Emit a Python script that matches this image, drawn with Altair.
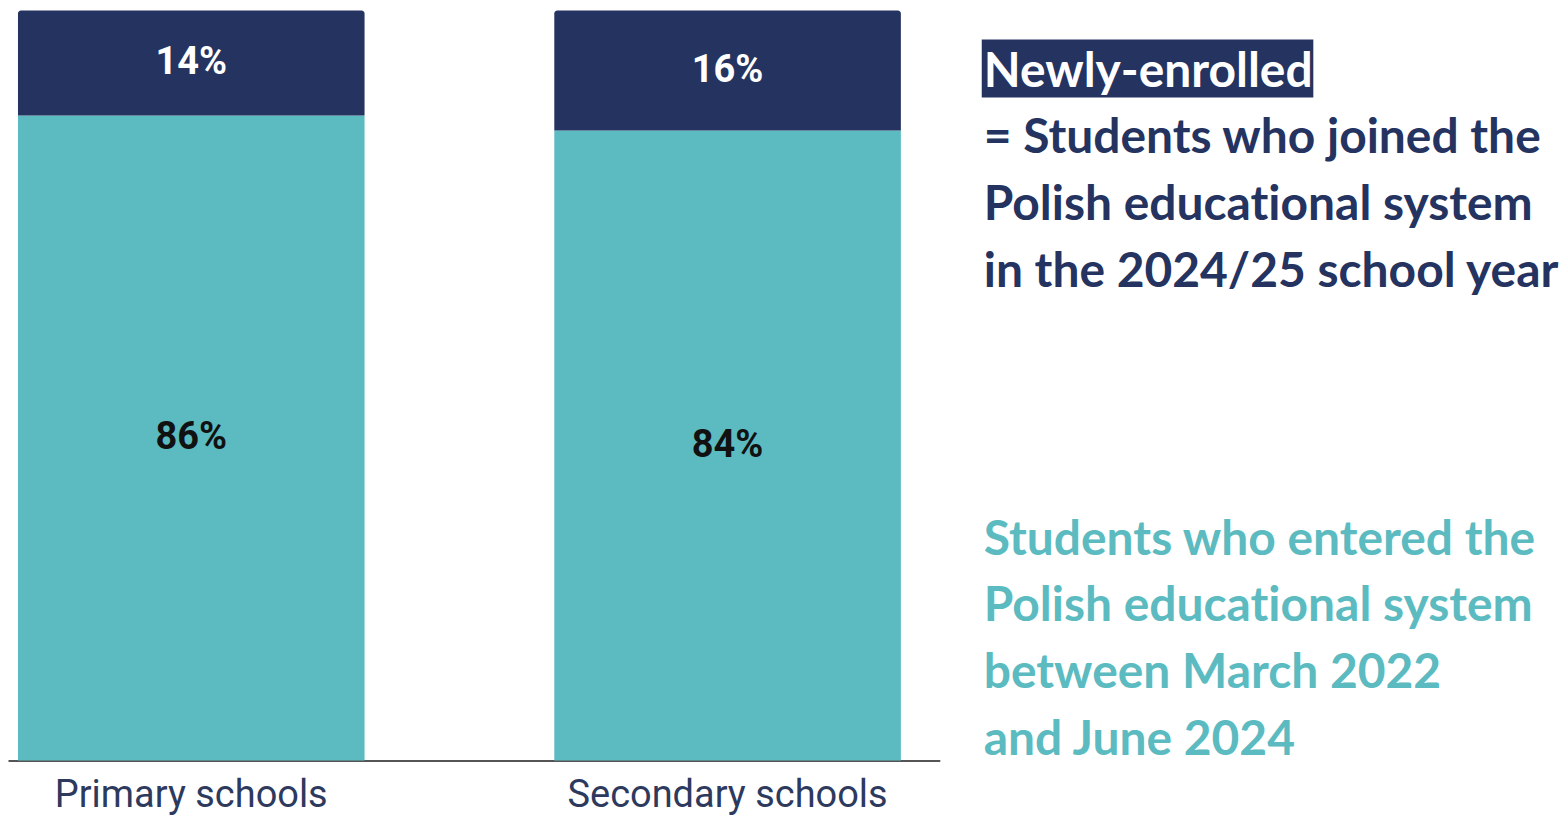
import altair as alt
import pandas as pd

# ---- data ----
schools = ["Primary schools", "Secondary schools"]
earlier_pct = [86, 84]    # entered between March 2022 and June 2024
newly_pct = [14, 16]      # newly-enrolled in 2024/25

ZWNJ = "\u200c"  # keeps "ti" from turning into a ligature
title_word = "Newly-enrolled"
navy_lines = ["= Students who joined the",
              f"Polish educat{ZWNJ}ional system",
              "in the 2024/25 school year"]
teal_lines = ["Students who entered the",
              f"Polish educat{ZWNJ}ional system",
              "between March 2022",
              "and June 2024"]

NAVY = "#243360"
TEAL = "#5bbbc0"

df = pd.DataFrame({
    "school": schools,
    "earlier": earlier_pct,
    "newly": newly_pct,
})
df["total"] = df["earlier"] + df["newly"]
df["earlier_mid"] = df["earlier"] / 2
df["newly_mid"] = df["earlier"] + df["newly"] / 2
df["earlier_lbl"] = [f"{v}%" for v in df["earlier"]]
df["newly_lbl"] = [f"{v}%" for v in df["newly"]]

W, H = 933, 751

x = alt.X("school:N", sort=schools, title=None,
          scale=alt.Scale(paddingInner=0.3538, paddingOuter=0.0456, align=0.204),
          axis=alt.Axis(labelAngle=0, ticks=False, labelPadding=16, labelLimit=0,
                        labelFont="Roboto", labelFontSize=38, labelColor="#2d3a5e",
                        domainColor="#555555", domainWidth=2, grid=False))
yscale = alt.Scale(domain=[0, 100], nice=False)

base = alt.Chart(df)

teal_bar = base.mark_bar(color=TEAL).encode(
    x=x,
    y=alt.Y("earlier:Q", scale=yscale, axis=None),
)
navy_bar = base.mark_bar(color=NAVY, cornerRadiusTopLeft=3, cornerRadiusTopRight=3).encode(
    x=x,
    y=alt.Y("earlier:Q", scale=yscale, axis=None),
    y2="total:Q",
)
teal_txt = base.mark_text(font="Roboto", fontWeight="bold", fontSize=38,
                          color="#111111", baseline="middle").encode(
    x=x, y=alt.Y("earlier_mid:Q", scale=yscale, axis=None), text="earlier_lbl:N")
navy_txt = base.mark_text(font="Roboto", fontWeight="bold", fontSize=38,
                          color="white", baseline="middle").encode(
    x=x, y=alt.Y("newly_mid:Q", scale=yscale, axis=None), text="newly_lbl:N")

one = alt.Chart(pd.DataFrame({"k": [0]}))

hl_rect = one.mark_rect(color=NAVY).encode(
    x=alt.value(975), x2=alt.value(1307), y=alt.value(29), y2=alt.value(87))
hl_txt = one.mark_text(text=title_word, font="Lato", fontWeight="bold", fontSize=48,
                       color="white", align="left", baseline="alphabetic").encode(
    x=alt.value(977), y=alt.value(77))
navy_block = one.mark_text(text=navy_lines, font="Lato", fontWeight="bold", fontSize=48,
                           color=NAVY, align="left", baseline="alphabetic",
                           lineHeight=66.7).encode(
    x=alt.value(977), y=alt.value(143))
teal_block = one.mark_text(text=teal_lines, font="Lato", fontWeight="bold", fontSize=48,
                           color=TEAL, align="left", baseline="alphabetic",
                           lineHeight=66.7).encode(
    x=alt.value(977), y=alt.value(545))

chart = alt.layer(teal_bar, navy_bar, teal_txt, navy_txt,
                  hl_rect, hl_txt, navy_block, teal_block).properties(
    width=W, height=H,
    background="white",
    padding={"left": 0, "top": 2, "right": 0, "bottom": 0},
).configure_view(stroke=None)

chart.save("out.html", embed_options={"renderer": "svg", "actions": False})
